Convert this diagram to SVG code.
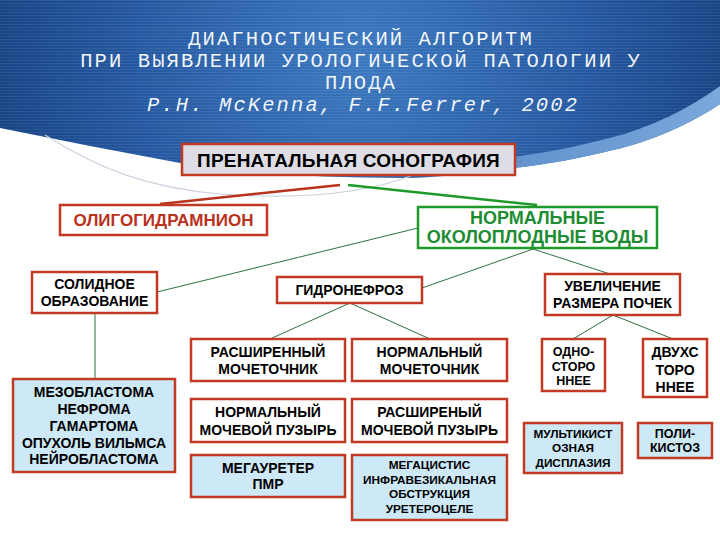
<svg xmlns="http://www.w3.org/2000/svg" width="720" height="540" viewBox="0 0 720 540">
<defs>
  <radialGradient id="hdr" cx="360" cy="60" r="420" gradientUnits="userSpaceOnUse">
    <stop offset="0" stop-color="#3c79c0"/>
    <stop offset="0.55" stop-color="#2558a0"/>
    <stop offset="1" stop-color="#143d7a"/>
  </radialGradient>
  <linearGradient id="band" x1="0" y1="0" x2="1" y2="0">
    <stop offset="0" stop-color="#6b9bd2" stop-opacity="0"/>
    <stop offset="0.35" stop-color="#6b9bd2" stop-opacity="0.9"/>
    <stop offset="1" stop-color="#7aa8dc"/>
  </linearGradient>
  <pattern id="stripes" width="4" height="3" patternUnits="userSpaceOnUse">
    <rect x="0" y="0" width="4" height="1" fill="#ffffff" fill-opacity="0.07"/>
  </pattern>
  <style>
    .title{font-family:"Liberation Mono","Courier New",monospace;font-size:20.5px;letter-spacing:2.1px;fill:#ffffff;fill-opacity:0.95;text-anchor:middle}
    .box{stroke:#c03a24;stroke-width:2.5}
    .w{fill:#ffffff}
    .b{fill:#cde8f7}
    .t{font-family:"Liberation Sans",Arial,sans-serif;font-weight:bold;font-size:14px;fill:#000000;text-anchor:middle}
    .s{font-size:11.8px}
    .conn{stroke:#2e7040;stroke-width:1;fill:none}
  </style>
</defs>

<rect x="0" y="0" width="720" height="540" fill="#ffffff"/>

<g id="background">
  <path d="M0,0 H720 V104 C690,124 650,142 613,150 C580,158 545,165 513,168 C470,174 430,178 400,178 C320,178 240,173 180,163 C120,152 60,140 0,128 Z" fill="url(#hdr)"/>
  <path d="M0,0 H720 V104 C690,124 650,142 613,150 C580,158 545,165 513,168 C470,174 430,178 400,178 C320,178 240,173 180,163 C120,152 60,140 0,128 Z" fill="url(#stripes)"/>
  <path d="M720,86 C690,108 650,128 613,137 C580,146 545,153 513,157 C480,162 450,166 420,170 C450,170 480,172 513,168 C545,165 580,158 613,150 C650,142 690,124 720,104 Z" fill="url(#band)"/>
  <path d="M45,135 C100,170 150,188 220,194 C290,199 360,196 413,175" fill="none" stroke="#ccd3de" stroke-width="1.2"/>
</g>

<g id="title">
  <text class="title" x="361" y="45">ДИАГНОСТИЧЕСКИЙ АЛГОРИТМ</text>
  <text class="title" x="361" y="67">ПРИ ВЫЯВЛЕНИИ УРОЛОГИЧЕСКОЙ ПАТОЛОГИИ У</text>
  <text class="title" x="361" y="89">ПЛОДА</text>
  <text class="title" x="363" y="111" font-style="italic">P.H. McKenna, F.F.Ferrer, 2002</text>
</g>

<g id="connectors">
  <line x1="340" y1="185" x2="160" y2="204" stroke="#b8321c" stroke-width="2.5"/>
  <line x1="348" y1="185" x2="537" y2="205" stroke="#1f9a2a" stroke-width="2.5"/>
  <line class="conn" x1="418" y1="228" x2="157" y2="292"/>
  <line class="conn" x1="533" y1="249" x2="422" y2="288"/>
  <line class="conn" x1="533" y1="249" x2="610" y2="274"/>
  <line class="conn" x1="350" y1="303" x2="270" y2="339"/>
  <line class="conn" x1="350" y1="303" x2="430" y2="339"/>
  <line class="conn" x1="613" y1="315" x2="573" y2="339"/>
  <line class="conn" x1="613" y1="315" x2="673" y2="339"/>
  <line class="conn" x1="95" y1="313" x2="95" y2="379"/>
</g>

<g id="n-pren">
  <rect class="box" x="182" y="144" width="333" height="31" fill="#dedde6" stroke-width="3"/>
  <text class="t" x="348.5" y="167" style="font-size:19px;letter-spacing:0.2px">ПРЕНАТАЛЬНАЯ СОНОГРАФИЯ</text>
</g>
<g id="n-oligo">
  <rect class="box w" x="60" y="205" width="207" height="30"/>
  <text class="t" x="163.5" y="226" style="fill:#b8321c;font-size:17px">ОЛИГОГИДРАМНИОН</text>
</g>
<g id="n-norm">
  <rect x="418" y="207" width="239" height="41" fill="#ffffff" stroke="#1f9a2a" stroke-width="2.5"/>
  <text class="t" x="537.5" y="224" style="fill:#1e8c32;font-size:18px">НОРМАЛЬНЫЕ</text>
  <text class="t" x="537.5" y="243" style="fill:#1e8c32;font-size:18px">ОКОЛОПЛОДНЫЕ ВОДЫ</text>
</g>
<g id="n-solid">
  <rect class="box w" x="32" y="272" width="125" height="41"/>
  <text class="t" x="94.5" y="289">СОЛИДНОЕ</text>
  <text class="t" x="94.5" y="306">ОБРАЗОВАНИЕ</text>
</g>
<g id="n-gidro">
  <rect class="box w" x="277" y="277" width="145" height="26"/>
  <text class="t" x="349.5" y="295">ГИДРОНЕФРОЗ</text>
</g>
<g id="n-uvel">
  <rect class="box w" x="545" y="274" width="135" height="41"/>
  <text class="t" x="612.5" y="291">УВЕЛИЧЕНИЕ</text>
  <text class="t" x="612.5" y="308">РАЗМЕРА ПОЧЕК</text>
</g>
<g id="n-rasm">
  <rect class="box w" x="191" y="339" width="154" height="42"/>
  <text class="t" x="268" y="357">РАСШИРЕННЫЙ</text>
  <text class="t" x="268" y="374">МОЧЕТОЧНИК</text>
</g>
<g id="n-normm">
  <rect class="box w" x="352" y="339" width="155" height="42"/>
  <text class="t" x="429.5" y="357">НОРМАЛЬНЫЙ</text>
  <text class="t" x="429.5" y="374">МОЧЕТОЧНИК</text>
</g>
<g id="n-odno">
  <rect class="box w" x="542" y="339" width="63" height="52"/>
  <text class="t" x="573.5" y="356" style="font-size:12.5px">ОДНО-</text>
  <text class="t" x="573.5" y="371" style="font-size:12.5px">СТОРО</text>
  <text class="t" x="573.5" y="385" style="font-size:12.5px">ННЕЕ</text>
</g>
<g id="n-dvuh">
  <rect class="box w" x="643" y="339" width="64" height="58"/>
  <text class="t" x="675" y="357">ДВУХС</text>
  <text class="t" x="675" y="375">ТОРО</text>
  <text class="t" x="675" y="392">ННЕЕ</text>
</g>
<g id="n-mezo">
  <rect class="box b" x="13" y="379" width="162" height="93"/>
  <text class="t" x="94" y="397">МЕЗОБЛАСТОМА</text>
  <text class="t" x="94" y="414">НЕФРОМА</text>
  <text class="t" x="94" y="431">ГАМАРТОМА</text>
  <text class="t" x="94" y="448">ОПУХОЛЬ ВИЛЬМСА</text>
  <text class="t" x="94" y="464">НЕЙРОБЛАСТОМА</text>
</g>
<g id="n-nmp">
  <rect class="box w" x="191" y="399" width="154" height="43"/>
  <text class="t" x="268" y="417">НОРМАЛЬНЫЙ</text>
  <text class="t" x="268" y="435">МОЧЕВОЙ ПУЗЫРЬ</text>
</g>
<g id="n-rmp">
  <rect class="box w" x="352" y="399" width="155" height="43"/>
  <text class="t" x="429.5" y="417">РАСШИРЕНЫЙ</text>
  <text class="t" x="429.5" y="435">МОЧЕВОЙ ПУЗЫРЬ</text>
</g>
<g id="n-mega">
  <rect class="box b" x="191" y="455" width="154" height="42"/>
  <text class="t" x="268" y="473">МЕГАУРЕТЕР</text>
  <text class="t" x="268" y="489">ПМР</text>
</g>
<g id="n-megac">
  <rect class="box b" x="352" y="455" width="155" height="65"/>
  <text class="t s" x="429.5" y="469">МЕГАЦИСТИС</text>
  <text class="t s" x="429.5" y="484">ИНФРАВЕЗИКАЛЬНАЯ</text>
  <text class="t s" x="429.5" y="498">ОБСТРУКЦИЯ</text>
  <text class="t s" x="429.5" y="513">УРЕТЕРОЦЕЛЕ</text>
</g>
<g id="n-multi">
  <rect class="box b" x="524" y="423" width="98" height="50"/>
  <text class="t s" x="573" y="438">МУЛЬТИКИСТ</text>
  <text class="t s" x="573" y="452">ОЗНАЯ</text>
  <text class="t s" x="573" y="467">ДИСПЛАЗИЯ</text>
</g>
<g id="n-poli">
  <rect class="box b" x="638" y="423" width="74" height="35"/>
  <text class="t" x="675" y="438" style="font-size:12.5px">ПОЛИ-</text>
  <text class="t" x="675" y="452" style="font-size:12.5px">КИСТОЗ</text>
</g>
</svg>
